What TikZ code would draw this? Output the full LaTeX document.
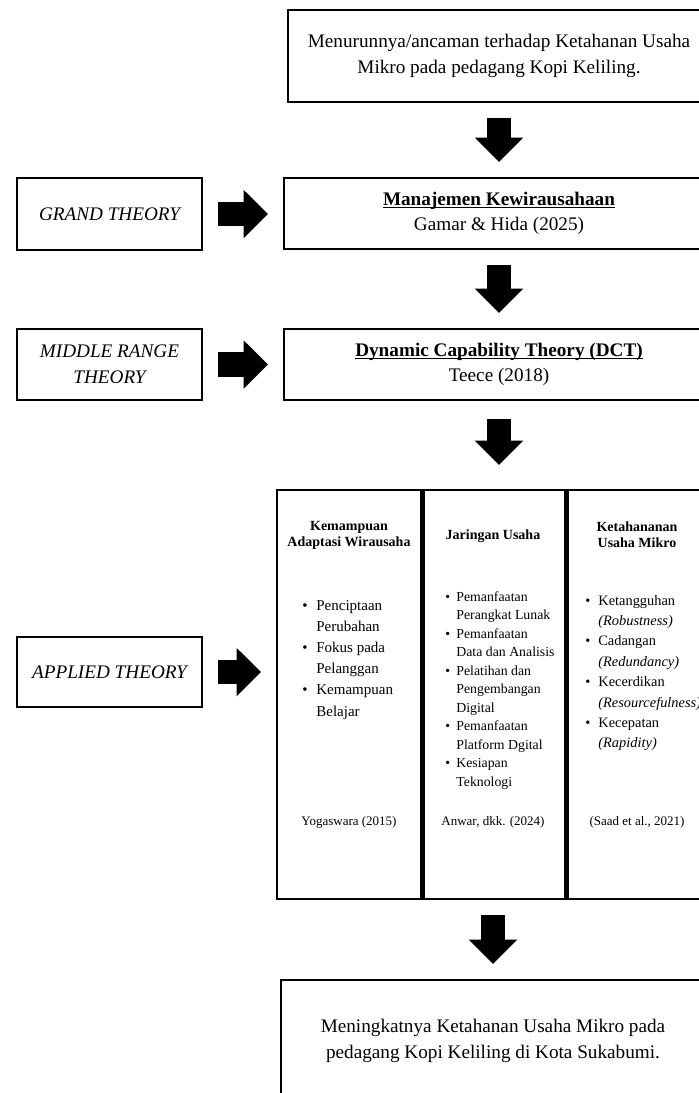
\documentclass[tikz,border=0pt]{standalone}
\usepackage{fontspec}
\setmainfont{Liberation Serif}
\usetikzlibrary{arrows.meta}

% bold text with a close underline
\newcommand{\ulbold}[1]{\setbox0\hbox{\textbf{#1}}\rlap{\rule[-1.3pt]{\wd0}{0.55pt}}\box0}

\tikzset{
  box/.style={draw, line width=1.1pt, align=center, inner sep=0pt, font=\fontsize{9.6}{12.8}\selectfont},
  theory/.style={box, minimum width=92.5pt, font=\fontsize{9.6}{12.8}\selectfont\itshape},
  blockarrow/.style={line width=12.2pt, -{Triangle[width=23.5pt,length=12.2pt]}, shorten <=7.5pt, shorten >=7.5pt},
  colbox/.style={draw, line width=1.1pt, minimum width=72pt, minimum height=204.5pt, inner sep=0pt},
  colhead/.style={align=center, inner sep=0pt, font=\fontsize{7}{8}\selectfont\bfseries},
  listtext/.style={anchor=base west, inner sep=0pt},
  citation/.style={inner sep=0pt, font=\fontsize{6.5}{8}\selectfont},
}

\begin{document}
\begin{tikzpicture}[x=0.5pt, y=-0.5pt]
          \useasboundingbox (0,0) rectangle (699,1093);
          \clip (0,0) rectangle (699,1093);
          % main chain
          \node[box, minimum width=211pt, minimum height=46pt] (top) at (499, 56) {Menurunnya/ancaman terhadap Ketahanan Usaha\\Mikro pada pedagang Kopi Keliling.};
          \node[box, minimum width=215pt, minimum height=35.5pt] (mgmt) at (499, 213.5) {\ulbold{Manajemen Kewirausahaan}\\Gamar \& Hida (2025)};
          \node[box, minimum width=215pt, minimum height=35.5pt] (dct) at (499, 364.5) {\ulbold{Dynamic Capability Theory (DCT)}\\Teece (2018)};
          \node[box, minimum width=212pt, minimum height=61pt] (final) at (493, 1041) {Meningkatnya Ketahanan Usaha Mikro pada\\pedagang Kopi Keliling di Kota Sukabumi.};
          % theory levels
          \node[theory, minimum height=36pt] (grand) at (109.5, 214) {GRAND THEORY};
          \node[theory, minimum height=35.5pt] (middle) at (109.5, 364.5) {MIDDLE RANGE\\THEORY};
          \node[theory, minimum height=35pt] (applied) at (109.5, 672) {APPLIED THEORY};
          % variable columns
          \node[colbox] (col1) at (349, 694.5) {};
          \node[colbox] (col2) at (493, 694.5) {};
          \node[colbox] (col3) at (637, 694.5) {};
          \draw[line width=2.6pt] (col1.north east) -- (col1.south east);
          \draw[line width=2.6pt] (col2.north east) -- (col2.south east);
          %
          \node[colhead] (head1) at (349, 535) {Kemampuan\\Adaptasi Wirausaha};
          \node[colhead] (head2) at (493, 536) {Jaringan Usaha};
          \node[colhead] (head3) at (637, 535) {Ketahananan\\Usaha Mikro};
          %
          \node[listtext, font=\fontsize{7.5}{10.6}\selectfont] (list1) at (302, 610) {\begin{tabular}[t]{@{}p{7pt}@{}l@{}}
            \textbullet & Penciptaan \\ & Perubahan \\
            \textbullet & Fokus pada \\ & Pelanggan \\
            \textbullet & Kemampuan \\ & Belajar
          \end{tabular}};
          \node[listtext, font=\fontsize{6.9}{9.25}\selectfont] (list2) at (445, 601) {\begin{tabular}[t]{@{}p{5.5pt}@{}l@{}}
            \textbullet & Pemanfaatan \\ & Perangkat Lunak \\
            \textbullet & Pemanfaatan \\ & Data dan Analisis \\
            \textbullet & Pelatihan dan \\ & Pengembangan \\ & Digital \\
            \textbullet & Pemanfaatan \\ & Platform Dgital \\
            \textbullet & Kesiapan \\ & Teknologi
          \end{tabular}};
          \node[listtext, font=\fontsize{7.2}{10.2}\selectfont] (list3) at (585, 605) {\begin{tabular}[t]{@{}p{6.5pt}@{}l@{}}
            \textbullet & Ketangguhan \\ & \textit{(Robustness)} \\
            \textbullet & Cadangan \\ & \textit{(Redundancy)} \\
            \textbullet & Kecerdikan \\ & \textit{(Resourcefulness)} \\
            \textbullet & Kecepatan \\ & \textit{(Rapidity)}
          \end{tabular}};
          %
          \node[citation] (cite1) at (349, 822) {Yogaswara (2015)};
          \node[citation] (cite2) at (493, 822) {Anwar, dkk. (2024)};
          \node[citation] (cite3) at (637, 822) {(Saad et al., 2021)};
          % arrows
          \draw[blockarrow] (top) -- (mgmt);
          \draw[blockarrow] (mgmt) -- (dct);
          \draw[blockarrow, shorten <=9pt, shorten >=12pt] (dct) -- (dct |- col2.north);
          \draw[blockarrow] (col2) -- (final);
          \draw[blockarrow] (grand.east) -- (grand.east -| mgmt.west);
          \draw[blockarrow] (middle.east) -- (middle.east -| dct.west);
          \draw[blockarrow] (applied.east) -- (applied.east -| col1.west);
\end{tikzpicture}
\end{document}
